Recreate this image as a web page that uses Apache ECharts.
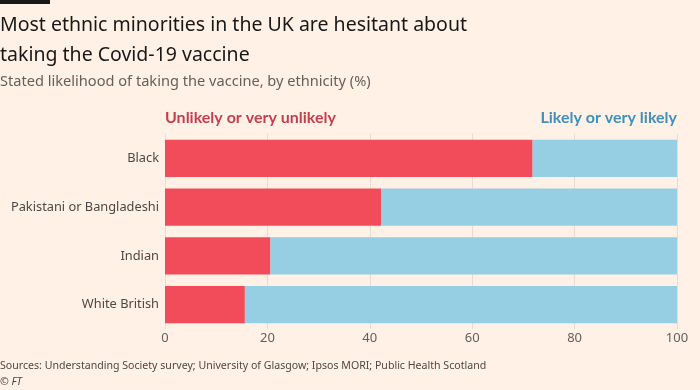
<!DOCTYPE html>
<html>
<head>
<meta charset="utf-8">
<script src="https://cdn.jsdelivr.net/npm/echarts@6/dist/echarts.min.js"></script>
<style>
html,body{margin:0;padding:0;background:#fff1e5;}
#chart{width:700px;height:390px;}
</style>
</head>
<body>
<div id="chart"></div>
<script>
var categories = ["Black", "Pakistani or Bangladeshi", "Indian", "White British"];
var unlikely = [71.8, 42.2, 20.6, 15.6];
var likely = [28.2, 57.8, 79.4, 84.4];
var seriesNames = ["Unlikely or very unlikely", "Likely or very likely"];
var xTicks = [0, 20, 40, 60, 80, 100];

var FONT = "Noto Sans";
var chart = echarts.init(document.getElementById('chart'), null, {renderer: 'canvas'});
chart.setOption({
  backgroundColor: '#fff1e5',
  animation: false,
  title: [
    {text: 'Most ethnic minorities in the UK are hesitant about\ntaking the Covid-19 vaccine', left: 0, top: 10, padding: 0,
     textStyle: {fontFamily: FONT, fontSize: 19.5, fontWeight: 'normal', color: '#1a1817', lineHeight: 30}},
    {text: 'Stated likelihood of taking the vaccine, by ethnicity (%)', left: 0, top: 74, padding: 0,
     textStyle: {fontFamily: FONT, fontSize: 14.6, fontWeight: 'normal', color: '#66605c'}},
    {text: 'Sources: Understanding Society survey; University of Glasgow; Ipsos MORI; Public Health Scotland', left: 0, top: 360, padding: 0,
     textStyle: {fontFamily: FONT, fontSize: 10.6, fontWeight: 'normal', color: '#4d4845'}},
    {text: '© FT', left: 0, top: 376, padding: 0,
     textStyle: {fontFamily: FONT, fontSize: 10.6, fontWeight: 'normal', fontStyle: 'italic', color: '#4d4845'}}
  ],
  graphic: [
    {type: 'rect', left: 0, top: 0, shape: {width: 50, height: 4}, style: {fill: '#1a1817'}},
    {type: 'text', left: 165, top: 110, style: {text: seriesNames[0], fontFamily: 'Lato', fontSize: 16, fontWeight: 'bold', fill: '#c63e4e'}},
    {type: 'text', right: 23, top: 110, style: {text: seriesNames[1], fontFamily: 'Lato', fontSize: 16, fontWeight: 'bold', fill: '#3e90bd'}}
  ],
  grid: {left: 165, right: 23, top: 134, bottom: 61},
  xAxis: {
    type: 'value', min: 0, max: 100, interval: 20,
    axisLine: {show: false}, axisTick: {show: false},
    splitLine: {show: true, lineStyle: {color: '#e9dccf', width: 1}},
    axisLabel: {margin: 3, fontFamily: FONT, fontSize: 13, color: '#66605c',
      formatter: function (v) { return xTicks.indexOf(v) >= 0 ? String(v) : ''; }}
  },
  yAxis: {
    type: 'category', data: categories, inverse: true,
    axisLine: {show: false}, axisTick: {show: false},
    axisLabel: {margin: 6, fontFamily: FONT, fontSize: 12.8, color: '#4d4845'}
  },
  series: [
    {name: seriesNames[0], type: 'bar', stack: 'a', data: unlikely, barCategoryGap: '24%',
     itemStyle: {color: '#f24c5b'}},
    {name: seriesNames[1], type: 'bar', stack: 'a', data: likely, barCategoryGap: '24%',
     itemStyle: {color: '#96cee3'}}
  ]
});
</script>
</body>
</html>
